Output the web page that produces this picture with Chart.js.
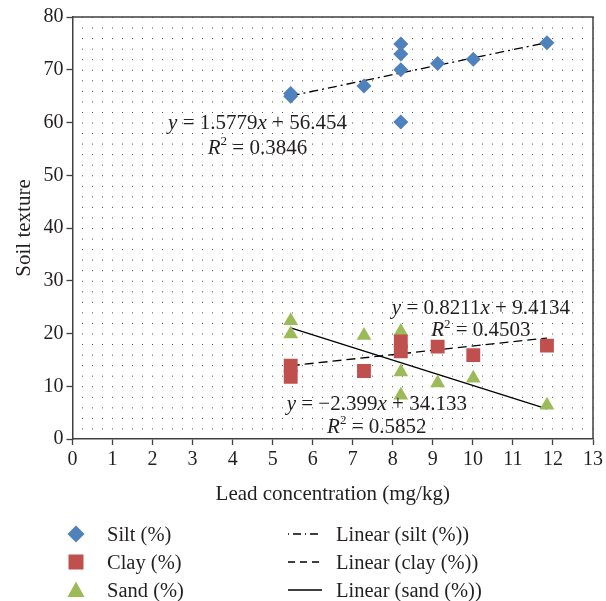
<!DOCTYPE html>
<html>
<head>
<meta charset="utf-8">
<script src="https://cdn.jsdelivr.net/npm/chart.js"></script>
<style>
  body { margin: 0; background: #fff; }
  #wrap { position: relative; width: 606px; height: 601px; }
  .item { position: absolute; height: 24px; line-height: 24px; font-family: "Liberation Serif", serif; font-size: 20.5px; color: #231f20; white-space: nowrap; }
  .mark { position: absolute; }
</style>
</head>
<body>
<div id="wrap">
  <canvas id="soilChart" width="606" height="601"></canvas>

  <svg class="mark" style="left:67px;top:525px" width="18" height="18"><polygon points="9,0.5 17.5,9 9,17.5 0.5,9" fill="#4F81BD"/></svg>
  <div class="item" style="left:107px;top:522px">Silt (%)</div>
  <svg class="mark" style="left:68px;top:554px" width="16" height="16"><rect x="0.5" y="0.5" width="15" height="15" fill="#C0504D"/></svg>
  <div class="item" style="left:107px;top:550px">Clay (%)</div>
  <svg class="mark" style="left:67px;top:581px" width="18" height="17"><polygon points="9,0.5 17.5,16 0.5,16" fill="#9BBB59"/></svg>
  <div class="item" style="left:107px;top:578px">Sand (%)</div>

  <svg class="mark" style="left:288px;top:529px" width="34" height="10"><line x1="0" y1="5" x2="34" y2="5" stroke="#000" stroke-width="1.3" stroke-dasharray="1,4,8,4"/></svg>
  <div class="item" style="left:336px;top:522px">Linear (silt (%))</div>
  <svg class="mark" style="left:288px;top:557px" width="34" height="10"><line x1="0" y1="5" x2="34" y2="5" stroke="#000" stroke-width="1.3" stroke-dasharray="7,5"/></svg>
  <div class="item" style="left:336px;top:550px">Linear (clay (%))</div>
  <svg class="mark" style="left:288px;top:585px" width="34" height="10"><line x1="0" y1="5" x2="34" y2="5" stroke="#000" stroke-width="1.5"/></svg>
  <div class="item" style="left:336px;top:578px">Linear (sand (%))</div>
</div>
<script>
// measured points (lead concentration mg/kg, %)
const siltX = [5.45, 5.45, 7.28, 8.2, 8.2, 8.2, 8.2, 9.12, 10.01, 11.85];
const siltY = [65.0, 65.5, 66.9, 74.9, 73.0, 70.0, 60.1, 71.2, 72.0, 75.1];

const clayX = [5.45, 5.45, 7.28, 8.2, 8.2, 9.12, 10.01, 11.85];
const clayY = [13.9, 11.8, 12.9, 18.5, 16.6, 17.5, 15.9, 17.7];

const sandX = [5.45, 5.45, 7.28, 8.2, 8.2, 8.2, 9.12, 10.01, 11.85];
const sandY = [22.4, 19.9, 19.6, 20.4, 12.7, 8.3, 10.6, 11.5, 6.4];

// trend line ends
const fitX = [5.45, 11.85];
const siltFit = [65.05, 75.15];
const clayFit = [13.89, 19.14];
const sandFit = [21.06, 5.70];

const xTicks = [0, 13];
const yTicks = [0, 80];

function pts(xs, ys) {
  return xs.map((x, i) => ({ x: x, y: ys[i] }));
}

const serif = '"Liberation Serif", "Times New Roman", serif';
const textColor = '#231f20';
const axisColor = '#404040';

// equation labels, anchored in data units
const equations = [
  { x: 4.62, y: [60.1, 55.4], lines: [
    [{ t: 'y', it: 1 }, { t: ' = 1.5779' }, { t: 'x', it: 1 }, { t: ' + 56.454' }],
    [{ t: 'R', it: 1 }, { t: '2', sup: 1 }, { t: ' = 0.3846' }]
  ] },
  { x: 10.2, y: [25.0, 20.8], lines: [
    [{ t: 'y', it: 1 }, { t: ' = 0.8211' }, { t: 'x', it: 1 }, { t: ' + 9.4134' }],
    [{ t: 'R', it: 1 }, { t: '2', sup: 1 }, { t: ' = 0.4503' }]
  ] },
  { x: 7.6, y: [6.8, 2.5], lines: [
    [{ t: 'y', it: 1 }, { t: ' = \u22122.399' }, { t: 'x', it: 1 }, { t: ' + 34.133' }],
    [{ t: 'R', it: 1 }, { t: '2', sup: 1 }, { t: ' = 0.5852' }]
  ] }
];

function drawRich(ctx, parts, cx, cy, size) {
  let w = 0;
  const segs = parts.map(p => {
    const font = (p.it ? 'italic ' : '') + (p.sup ? size * 0.62 : size) + 'px ' + serif;
    ctx.font = font;
    const sw = ctx.measureText(p.t).width;
    w += sw;
    return { t: p.t, sup: p.sup, font: font, sw: sw };
  });
  let x = cx - w / 2;
  const base = cy + size * 0.33;
  segs.forEach(s => {
    ctx.font = s.font;
    ctx.fillText(s.t, x, s.sup ? base - size * 0.4 : base);
    x += s.sw;
  });
}

const extras = {
  id: 'extras',
  beforeDatasetsDraw(chart) {
    const { ctx, chartArea: a } = chart;
    ctx.save();
    ctx.strokeStyle = axisColor;
    ctx.lineWidth = 1.5;
    ctx.beginPath();
    ctx.moveTo(a.left, a.top);
    ctx.lineTo(a.right, a.top);
    ctx.lineTo(a.right, a.bottom);
    ctx.stroke();
    ctx.restore();
  },
  afterDatasetsDraw(chart) {
    const { ctx, scales } = chart;
    ctx.save();
    ctx.fillStyle = textColor;
    ctx.textAlign = 'left';
    ctx.textBaseline = 'alphabetic';
    equations.forEach(eq => {
      const cx = scales.x.getPixelForValue(eq.x);
      eq.lines.forEach((ln, i) => {
        drawRich(ctx, ln, cx, scales.y.getPixelForValue(eq.y[i]), 21);
      });
    });
    ctx.restore();
  }
};

const ctx = document.getElementById('soilChart').getContext('2d');
new Chart(ctx, {
  type: 'scatter',
  data: {
    datasets: [
      {
        label: 'Silt (%)',
        data: pts(siltX, siltY),
        pointStyle: 'rectRot',
        pointRadius: 7.5,
        backgroundColor: '#4F81BD',
        borderWidth: 0,
      },
      {
        label: 'Clay (%)',
        data: pts(clayX, clayY),
        pointStyle: 'rect',
        pointRadius: 9.8,
        backgroundColor: '#C0504D',
        borderWidth: 0,
      },
      {
        label: 'Sand (%)',
        data: pts(sandX, sandY),
        pointStyle: 'triangle',
        pointRadius: 8.5,
        backgroundColor: '#9BBB59',
        borderWidth: 0,
      },
      {
        label: 'Linear (silt (%))',
        data: pts(fitX, siltFit),
        showLine: true,
        pointRadius: 0,
        borderColor: '#000',
        borderWidth: 1.3,
        borderDash: [9, 4, 2, 4],
      },
      {
        label: 'Linear (clay (%))',
        data: pts(fitX, clayFit),
        showLine: true,
        pointRadius: 0,
        borderColor: '#000',
        borderWidth: 1.3,
        borderDash: [9, 5],
      },
      {
        label: 'Linear (sand (%))',
        data: pts(fitX, sandFit),
        showLine: true,
        pointRadius: 0,
        borderColor: '#000',
        borderWidth: 1.4,
      },
    ],
  },
  options: {
    responsive: false,
    animation: false,
    layout: { padding: { top: 17, right: 11, bottom: 94, left: 0 } },
    plugins: { legend: { display: false }, tooltip: { enabled: false } },
    scales: {
      x: {
        type: 'linear',
        min: xTicks[0],
        max: xTicks[1],
        ticks: { stepSize: 1, color: textColor, padding: 3, font: { family: serif, size: 20 } },
        grid: { drawOnChartArea: false, tickLength: 6, tickColor: axisColor, tickWidth: 1.3 },
        border: { color: axisColor, width: 1.5 },
        title: { display: true, text: 'Lead concentration (mg/kg)', color: textColor, padding: { top: 0, bottom: 0 }, font: { family: serif, size: 21 } },
        afterFit: (s) => { s.height = 68; },
      },
      xg: {
        type: 'linear',
        position: 'bottom',
        min: xTicks[0],
        max: xTicks[1],
        ticks: { display: false, stepSize: 0.25 },
        grid: { color: '#4a4a4a', lineWidth: 1, drawTicks: false },
        border: { display: false, dash: [1, 9.55] },
        afterFit: (s) => { s.height = 0; },
      },
      y: {
        type: 'linear',
        min: yTicks[0],
        max: yTicks[1],
        ticks: { stepSize: 10, color: textColor, padding: 3, font: { family: serif, size: 20 } },
        grid: { drawOnChartArea: false, tickLength: 6, tickColor: axisColor, tickWidth: 1.3 },
        border: { color: axisColor, width: 1.5 },
        title: { display: true, text: 'Soil texture', color: textColor, padding: { top: 12, bottom: 0 }, font: { family: serif, size: 21 } },
        afterFit: (s) => { s.width = 72.5; },
      },
    },
  },
  plugins: [extras],
});
</script>
</body>
</html>
